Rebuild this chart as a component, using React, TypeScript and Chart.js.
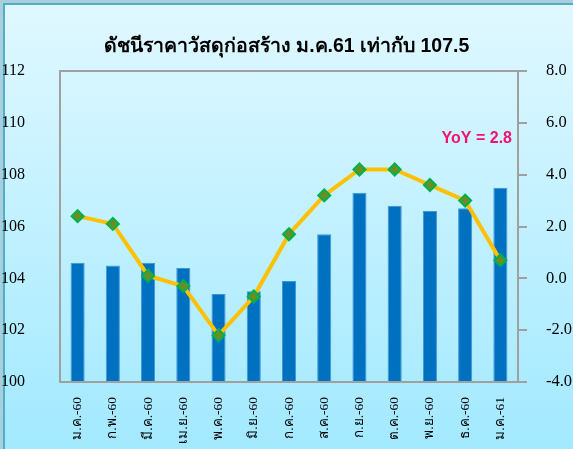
import React, { useEffect, useRef } from "react";
import { Chart, registerables } from "chart.js";

Chart.register(...registerables);

const TITLE = "ดัชนีราคาวัสดุก่อสร้าง ม.ค.61 เท่ากับ 107.5";
const ANNOTATION = "YoY = 2.8";
const months = ["ม.ค.-60", "ก.พ.-60", "มี.ค.-60", "เม.ย.-60", "พ.ค.-60", "มิ.ย.-60", "ก.ค.-60", "ส.ค.-60", "ก.ย.-60", "ต.ค.-60", "พ.ย.-60", "ธ.ค.-60", "ม.ค.-61"];
const indexValues = [104.6, 104.5, 104.6, 104.4, 103.4, 103.5, 103.9, 105.7, 107.3, 106.8, 106.6, 106.7, 107.5];
const yoyValues = [2.4, 2.1, 0.1, -0.3, -2.2, -0.7, 1.7, 3.2, 4.2, 4.2, 3.6, 3.0, 0.7];
const leftTicks = [100, 102, 104, 106, 108, 110, 112];
const rightTicks = [-4, -2, 0, 2, 4, 6, 8];

const serif = "'Liberation Serif', 'Times New Roman', 'DejaVu Serif', serif";
const sans = "Tahoma, 'Liberation Sans', 'DejaVu Sans', 'Noto Sans', sans-serif";

export default function App() {
  const ref = useRef<HTMLCanvasElement | null>(null);
  useEffect(() => {
    if (!ref.current) return;
    const decor = {
      id: "decor",
      afterDraw(chart: any) {
        const { ctx, chartArea } = chart;
        ctx.save();
        ctx.strokeStyle = "#A0A0A0";
        ctx.lineWidth = 2;
        ctx.strokeRect(chartArea.left, chartArea.top, chartArea.right - chartArea.left, chartArea.bottom - chartArea.top);
        ctx.fillStyle = "#000";
        ctx.font = `bold 19.5px ${sans}`;
        ctx.textAlign = "center";
        ctx.textBaseline = "middle";
        ctx.fillText(TITLE, chart.width / 2, 47);
        ctx.fillStyle = "#F0146E";
        ctx.font = `bold 16px ${sans}`;
        ctx.textAlign = "right";
        ctx.fillText(ANNOTATION, chartArea.right - 6, chartArea.top + 68);
        ctx.restore();
      },
    };
    const chart = new Chart(ref.current, {
      type: "bar",
      data: {
        labels: months,
        datasets: [
          {
            type: "line",
            data: yoyValues,
            yAxisID: "y1",
            borderColor: "#FFC000",
            borderWidth: 4,
            pointStyle: "rectRot",
            pointRadius: 6,
            pointBackgroundColor: "#6B8E23",
            pointBorderColor: "#00B050",
            pointBorderWidth: 2,
            order: 0,
          } as any,
          {
            type: "bar",
            data: indexValues,
            yAxisID: "y",
            backgroundColor: "#0070C0",
            borderColor: "#3C97D6",
            borderWidth: 1,
            categoryPercentage: 1,
            barPercentage: 0.4,
            order: 1,
          },
        ],
      },
      options: {
        responsive: false,
        animation: false,
        layout: { padding: { top: 71, left: 0, right: 0, bottom: 0 } },
        plugins: { legend: { display: false }, tooltip: { enabled: false }, title: { display: false } },
        scales: {
          x: {
            grid: { display: false },
            border: { color: "#A0A0A0", width: 2 },
            ticks: { minRotation: 90, maxRotation: 90, color: "#000", font: { family: serif, size: 13.5 }, padding: 7 },
            afterFit(s: any) { s.height = 67; },
          },
          y: {
            position: "left",
            min: 100,
            max: 112,
            afterBuildTicks(s: any) { s.ticks = leftTicks.map((v) => ({ value: v })); },
            grid: { display: false },
            border: { color: "#A0A0A0", width: 2 },
            ticks: { color: "#000", font: { family: serif, size: 16 }, padding: 27 },
            afterFit(s: any) { s.width = 60; },
          },
          y1: {
            position: "right",
            min: -4,
            max: 8,
            afterBuildTicks(s: any) { s.ticks = rightTicks.map((v) => ({ value: v })); },
            grid: { drawOnChartArea: false, color: "#A0A0A0", lineWidth: 2, tickLength: 9 },
            border: { color: "#A0A0A0", width: 2 },
            ticks: { color: "#000", font: { family: serif, size: 16.5 }, padding: 19, callback: (v: any) => Number(v).toFixed(1) },
            afterFit(s: any) { s.width = 55; },
          },
        },
      },
      plugins: [decor],
    });
    return () => chart.destroy();
  }, []);
  return (
    <div style={{ position: "fixed", left: 0, top: 0, width: 573, height: 449, background: "#A8CFDB", overflow: "hidden" }}>
      <div style={{ position: "absolute", left: 3, top: 3, width: 570, height: 446, borderTop: "2px solid #4FAFC8", borderLeft: "2px solid #4FAFC8", background: "linear-gradient(#E0F8FF, #A2E9FF)" }} />
      <canvas ref={ref} width={573} height={449} style={{ position: "absolute", left: 0, top: 0 }} />
    </div>
  );
}
